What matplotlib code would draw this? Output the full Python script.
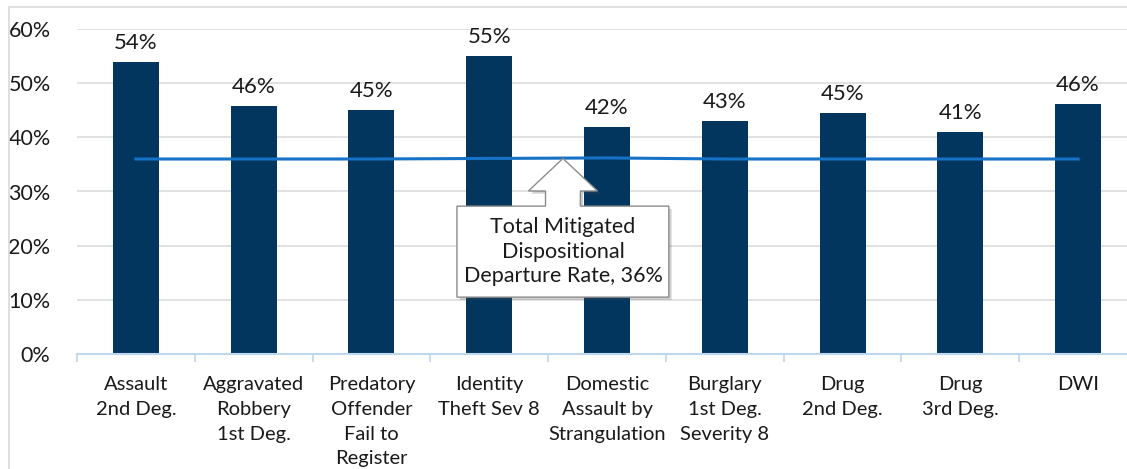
import matplotlib.pyplot as plt
from matplotlib.patches import Polygon, Rectangle
import matplotlib.patheffects as pe
import numpy as np

plt.rcParams['font.family'] = ['Lato', 'DejaVu Sans']

categories = ['Assault\n2nd Deg.', 'Aggravated\nRobbery\n1st Deg.', 'Predatory\nOffender\nFail to\nRegister',
              'Identity\nTheft Sev 8', 'Domestic\nAssault by\nStrangulation', 'Burglary\n1st Deg.\nSeverity 8',
              'Drug\n2nd Deg.', 'Drug\n3rd Deg.', 'DWI']
rates = [53.9, 45.8, 45.0, 55.0, 41.9, 43.0, 44.5, 41.0, 46.1]
labels = ['54%', '46%', '45%', '55%', '42%', '43%', '45%', '41%', '46%']
total_rate = [36.0, 36.0, 36.0, 36.1, 36.2, 36.0, 36.0, 36.0, 36.0]
callout = 'Total Mitigated\nDispositional\nDeparture Rate, 36%'

W, H = 1127, 469
fig = plt.figure(figsize=(W / 100, H / 100), dpi=100)

# light chart-area border
fig.patches.append(Rectangle((9 / W, -0.2), 1.2, 1.2 - 7 / H, transform=fig.transFigure,
                             fill=False, edgecolor='#D9D9D9', linewidth=1.2))

ax = fig.add_axes([77 / W, 1 - 354 / H, 1060 / W, 325 / H])
x = np.arange(len(categories))

ax.bar(x, rates, width=0.39, color='#03365F', zorder=2)
ax.plot(x, total_rate, color='#1572C6', linewidth=2.2, zorder=3)

for xi, v, lab in zip(x, rates, labels):
    ax.text(xi, v + 1.7, lab, ha='center', va='bottom', fontsize=16, color='#1a1a1a')

ax.set_xlim(-0.5, 8.5)
ax.set_ylim(0, 60)
ax.set_yticks(np.arange(0, 61, 10))
ax.set_yticklabels([f'{t}%' for t in range(0, 61, 10)], fontsize=15.5, color='#1a1a1a')
ax.yaxis.grid(True, color='#D9D9D9', linewidth=1.1, zorder=0)
ax.set_axisbelow(True)
ax.tick_params(axis='y', length=0, pad=19)

ax.set_xticks(x)
ax.set_xticklabels(categories, fontsize=14.5, color='#1a1a1a', linespacing=1.55)
ax.set_xticks(np.arange(-0.5, 9, 1), minor=True)
ax.tick_params(axis='x', which='major', length=0, pad=16)
ax.tick_params(axis='x', which='minor', length=6, color='#BDD7EE', width=1.2)

for s in ['top', 'right', 'left']:
    ax.spines[s].set_visible(False)
ax.spines['bottom'].set_color('#BDD7EE')
ax.spines['bottom'].set_linewidth(1.5)

# callout arrow box pointing at the total line
tip_x, tip_y = 3.626, total_rate[3]
bx0, bx1, by0, by1 = 2.726, 4.525, 10.5, 27.3
head_y = 30.1
shaft, head = 0.148, 0.293
pts = [(bx0, by0), (bx0, by1), (tip_x - shaft, by1), (tip_x - shaft, head_y), (tip_x - head, head_y),
       (tip_x, tip_y), (tip_x + head, head_y), (tip_x + shaft, head_y), (tip_x + shaft, by1),
       (bx1, by1), (bx1, by0)]
poly = Polygon(pts, closed=True, facecolor='white', edgecolor='#8C8C8C', linewidth=1.0, zorder=5,
               path_effects=[pe.SimplePatchShadow(offset=(2, -2), alpha=0.25), pe.Normal()])
ax.add_patch(poly)
ax.text(tip_x, (by0 + by1) / 2, callout, ha='center', va='center', fontsize=15.5,
        color='#1a1a1a', linespacing=1.3, zorder=6)

fig.savefig('out.png', dpi=100)
